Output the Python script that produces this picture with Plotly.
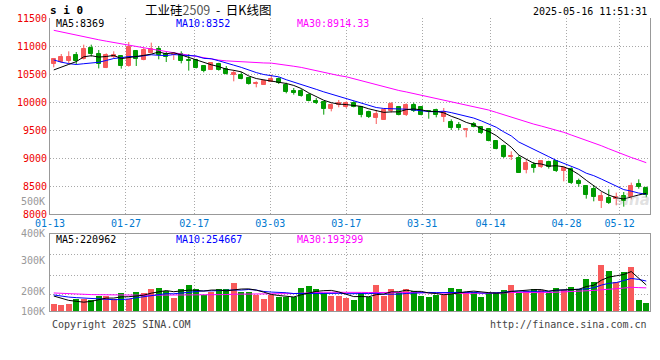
import numpy as np
import pandas as pd
import plotly.graph_objects as go

# ---------------- data ----------------
dates = [
    "01-13", "01-14", "01-15", "01-16", "01-17", "01-20", "01-21", "01-22", "01-23", "01-24", "01-27",
    "02-05", "02-06", "02-07", "02-10", "02-11", "02-12", "02-13", "02-14", "02-17", "02-18", "02-19",
    "02-20", "02-21", "02-24", "02-25", "02-26", "02-27", "02-28",
    "03-03", "03-04", "03-05", "03-06", "03-07", "03-10", "03-11", "03-12", "03-13", "03-14", "03-17",
    "03-18", "03-19", "03-20", "03-21", "03-24", "03-25", "03-26", "03-27", "03-28", "03-31",
    "04-01", "04-02", "04-03", "04-07", "04-08", "04-09", "04-10", "04-11", "04-14", "04-15", "04-16",
    "04-17", "04-18", "04-21", "04-22", "04-23", "04-24", "04-25", "04-28", "04-29", "04-30",
    "05-06", "05-07", "05-08", "05-09", "05-12", "05-13", "05-14", "05-15", "05-16",
]
opens = [10685, 10714, 10726, 10833, 10774, 10960, 10857, 10610, 10805, 10821,
         10645, 10905, 10745, 10875, 10950, 10865, 10833, 10857, 10745, 10750,
         10645, 10580, 10680, 10583, 10488, 10488, 10429, 10321, 10310, 10357,
         10417, 10310, 10202, 10202, 10131, 10024, 10000, 9881, 9940, 9917,
         9988, 9905, 9821, 9714, 9679, 9845, 9917, 9774, 9952, 9905,
         9845, 9857, 9726, 9643, 9595, 9500, 9607, 9548, 9512, 9310,
         9214, 9012, 9000, 8786, 8881, 8833, 8929, 8952, 8774, 8810,
         8595, 8500, 8440, 8238, 8286, 8262, 8321, 8298, 8536, 8464]
highs = [10786, 10857, 10905, 10893, 11024, 11024, 10929, 10869, 10905, 10821,
         11071, 10929, 10964, 11060, 11000, 10905, 10881, 10905, 10857, 10770,
         10655, 10714, 10700, 10643, 10571, 10536, 10440, 10369, 10405, 10488,
         10440, 10345, 10250, 10230, 10155, 10070, 10012, 9976, 10036, 10012,
         10012, 9929, 9845, 9857, 9881, 10000, 9929, 9976, 9988, 9917,
         9857, 9881, 9893, 9690, 9643, 9536, 9643, 9560, 9536, 9321,
         9238, 9119, 9048, 8976, 8929, 8964, 8952, 8964, 8845, 8833,
         8631, 8512, 8512, 8393, 8440, 8381, 8393, 8560, 8619, 8488]
lows = [10619, 10700, 10690, 10667, 10760, 10810, 10600, 10605, 10780, 10595,
        10631, 10643, 10745, 10870, 10762, 10714, 10750, 10690, 10560, 10600,
        10530, 10570, 10560, 10490, 10369, 10405, 10310, 10262, 10310, 10357,
        10321, 10155, 10131, 10095, 10012, 9964, 9774, 9833, 9905, 9893,
        9905, 9726, 9714, 9607, 9679, 9810, 9762, 9750, 9821, 9762,
        9702, 9726, 9643, 9500, 9500, 9369, 9548, 9429, 9298, 9155,
        9000, 8964, 8738, 8726, 8738, 8821, 8810, 8750, 8583, 8536,
        8488, 8274, 8226, 8107, 8179, 8155, 8131, 8262, 8452, 8298]
closes = [10762, 10798, 10798, 10738, 10940, 10857, 10680, 10845, 10840, 10650,
          10976, 10760, 10935, 10952, 10845, 10810, 10857, 10738, 10730, 10615,
          10550, 10690, 10575, 10500, 10512, 10417, 10321, 10345, 10381, 10417,
          10333, 10179, 10167, 10107, 10024, 9988, 9869, 9952, 9976, 9988,
          9917, 9774, 9738, 9786, 9857, 9964, 9774, 9940, 9845, 9774,
          9833, 9762, 9821, 9536, 9536, 9524, 9560, 9440, 9310, 9167,
          9012, 9036, 8738, 8917, 8821, 8952, 8845, 8774, 8821, 8548,
          8536, 8333, 8298, 8321, 8202, 8298, 8226, 8500, 8476, 8345]
volumes = [59000, 51000, 59000, 102000, 102000, 96000, 124000, 124000, 102000, 153000,
           102000, 161000, 153000, 187000, 195000, 170000, 113000, 187000, 220000, 187000,
           136000, 158000, 187000, 187000, 235000, 164000, 164000, 136000, 102000, 136000,
           119000, 119000, 119000, 195000, 212000, 187000, 150000, 130000, 130000, 107000,
           93000, 153000, 121000, 220000, 130000, 187000, 158000, 187000, 170000, 130000,
           119000, 136000, 136000, 198000, 187000, 158000, 164000, 119000, 150000, 161000,
           178000, 220000, 153000, 170000, 187000, 178000, 153000, 198000, 175000, 206000,
           187000, 271000, 249000, 390000, 339000, 243000, 328000, 373000, 93000, 68000]
# closes / volumes of the 29 sessions before the window (feed the moving averages)
pre_closes = [11700, 11680, 11650, 11640, 11620, 11600, 11590, 11580, 11560, 11580,
              11560, 11540, 11520, 11500, 11480, 11460, 11450, 11430, 11400, 11360,
              11200, 11050, 10900, 10800, 10700, 10580, 10520, 10490, 10510]
pre_volumes = [170000, 165000, 160000, 175000, 158000, 150000, 162000, 168000, 155000, 160000,
               172000, 165000, 150000, 158000, 162000, 155000, 160000, 158000, 165000, 162000,
               150000, 140000, 148000, 145000, 142000, 150000, 145000, 140000, 141000]
tick_dates = ["01-13", "01-27", "02-17", "03-03", "03-17", "03-31", "04-14", "04-28", "05-12"]
price_ticks = [8000, 8500, 9000, 9500, 10000, 10500, 11000, 11500]
vol_labels = ["500K", "400K", "300K", "200K", "100K"]

# ---------------- styling ----------------
RED = "#f85a5a"
GREEN = "#009a00"
MONO = "DejaVu Sans Mono"
GRID = "#a8a8a8"
DASH = "1px,2px"

n = len(dates)
x = np.arange(n)
up = [c >= o for o, c in zip(opens, closes)]
colors = [RED if u else GREEN for u in up]


def ma(pre, vals, w):
    s = pd.Series(list(pre) + list(vals), dtype=float)
    return s.rolling(w).mean().iloc[len(pre):].to_numpy()


# Sina spaces the date grid over n-1 intervals across the full width
tick_pos = [dates.index(d) * n / (n - 1) - 0.5 for d in tick_dates]

fig = go.Figure()

# wicks
for flag, col in ((True, RED), (False, GREEN)):
    wx, wy = [], []
    for i in range(n):
        if up[i] == flag:
            wx += [x[i], x[i], None]
            wy += [lows[i], highs[i], None]
    fig.add_trace(go.Scatter(x=wx, y=wy, mode="lines", line=dict(color=col, width=1),
                             xaxis="x", yaxis="y", hoverinfo="skip"))

# bodies
bases = [min(o, c) for o, c in zip(opens, closes)]
heights = [max(abs(c - o), 1e-6) for o, c in zip(opens, closes)]
fig.add_trace(go.Bar(x=x, y=heights, base=bases, width=0.58,
                     marker=dict(color=colors, line=dict(color=colors, width=1)),
                     xaxis="x", yaxis="y", hoverinfo="skip"))

# price moving averages
for w, col in ((30, "#ff00ff"), (10, "#0000ff"), (5, "#000000")):
    fig.add_trace(go.Scatter(x=x, y=ma(pre_closes, closes, w), mode="lines",
                             line=dict(color=col, width=1), xaxis="x", yaxis="y",
                             hoverinfo="skip"))

# volume bars
fig.add_trace(go.Bar(x=x, y=volumes, width=0.75, marker=dict(color=colors, line=dict(width=0)),
                     xaxis="x2", yaxis="y2", hoverinfo="skip"))
for w, col in ((30, "#ff00ff"), (10, "#0000ff"), (5, "#000000")):
    fig.add_trace(go.Scatter(x=x, y=ma(pre_volumes, volumes, w), mode="lines",
                             line=dict(color=col, width=1), xaxis="x2", yaxis="y2",
                             hoverinfo="skip"))

# ---------------- layout ----------------
TOP, BOT, LEFT, RIGHT = 18, 311, 50, 650


def py(v):
    return (BOT - v) / (BOT - TOP)


def px(v):
    return (v - LEFT) / (RIGHT - LEFT)


main_bottom = py(214)
vol_top = py(234)
vol_max = 653000

common_x = dict(range=[-0.5, n - 0.5], tickvals=tick_pos, showgrid=True, gridcolor=GRID,
                griddash=DASH, gridwidth=1, showline=True, linecolor="#999", linewidth=1,
                ticks="", zeroline=False, fixedrange=True)

fig.update_layout(
    width=660, height=360,
    margin=dict(l=LEFT, r=660 - RIGHT, t=TOP, b=360 - BOT, autoexpand=False),
    paper_bgcolor="white", plot_bgcolor="white",
    showlegend=False, barmode="overlay", bargap=0,
    xaxis=dict(domain=[0, 1], anchor="y", ticktext=tick_dates, automargin=False,
               tickfont=dict(family=MONO, size=10, color="#0078d0"), **common_x),
    yaxis=dict(domain=[main_bottom, 1], range=[price_ticks[0], price_ticks[-1]],
               tickvals=price_ticks, ticktext=[str(t) for t in price_ticks], automargin=False,
               tickfont=dict(family=MONO, size=10, color="#ee0000"),
               showgrid=True, gridcolor=GRID, griddash=DASH, gridwidth=1,
               showline=True, mirror=True, linecolor="#999", linewidth=1,
               ticks="", zeroline=False, fixedrange=True),
    xaxis2=dict(domain=[0, 1], anchor="y2", showticklabels=False, mirror=True, **common_x),
    yaxis2=dict(domain=[0, vol_top], range=[0, vol_max],
                tickvals=[136000, 305000, 475000], showticklabels=False,
                showgrid=True, gridcolor=GRID, griddash=DASH, gridwidth=1,
                showline=True, mirror=True, linecolor="#999", linewidth=1,
                ticks="", zeroline=False, fixedrange=True),
)

ann = []


def add(text, xp, yp, anchor="left", color="#000", size=10, family=MONO):
    ann.append(dict(text=text, x=px(xp), y=py(yp), xref="paper", yref="paper",
                    xanchor=anchor, yanchor="middle", showarrow=False,
                    font=dict(family=family, size=size, color=color)))


add("<b>s i 0</b>", 48, 10, size=11)
add("工业硅<span style='color:#555'>2509</span>  -  日K线图", 208, 9.5, anchor="center",
    size=12.5, family="Noto Sans CJK SC")
add("2025-05-16 11:51:31", 649, 11, anchor="right")
add("MA5:8369", 54, 24, color="#000")
add("MA10:8352", 174, 24, color="#0000ff")
add("MA30:8914.33", 295, 24, color="#ff00ff")
for lab, yy in zip(vol_labels, (201, 233, 260, 291, 311)):
    add(lab, 47, yy, anchor="right", color="#999")
add("MA5:220962", 54, 239, color="#000")
add("MA10:254667", 174, 239, color="#0000ff")
add("MA30:193299", 295, 239, color="#ff00ff")
add("Copyright 2025 SINA.COM", 50, 324, color="#444")
add("http://finance.sina.com.cn", 649, 324, anchor="right", color="#444")
add("<i><b>sina</b></i>", 652, 200, anchor="right", color="rgba(170,170,170,0.35)",
    size=15, family="DejaVu Sans")
fig.update_layout(annotations=ann)

fig.write_html("out.html", config={"displayModeBar": False},
               post_script="document.body.style.margin='0';document.body.style.padding='0';")
